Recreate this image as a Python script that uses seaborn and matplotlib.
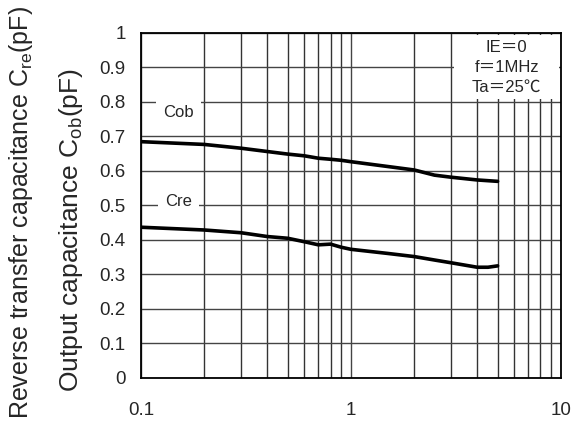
import numpy as np
import pandas as pd
import matplotlib
matplotlib.use('Agg')
import matplotlib.pyplot as plt
import matplotlib.ticker as mticker
from matplotlib.patches import Rectangle
import seaborn as sns

# collector-base voltage (V)
vcb_cob = [0.1, 0.2, 0.3, 0.5, 0.6, 0.7, 0.8, 0.9, 1.0, 2.0, 2.5, 3.0, 4.0, 5.0]
cob = [0.685, 0.677, 0.666, 0.649, 0.644, 0.637, 0.634, 0.631, 0.627, 0.603, 0.588, 0.582, 0.574, 0.570]

vcb_cre = [0.1, 0.2, 0.3, 0.4, 0.5, 0.6, 0.7, 0.8, 0.9, 1.0, 1.5, 2.0, 2.5, 3.0, 4.0, 4.5, 5.0]
cre = [0.437, 0.429, 0.421, 0.410, 0.405, 0.395, 0.386, 0.388, 0.379, 0.373, 0.361, 0.352, 0.342,
       0.334, 0.321, 0.321, 0.325]

x_ticks = [0.1, 1, 10]
y_ticks = [0, 0.1, 0.2, 0.3, 0.4, 0.5, 0.6, 0.7, 0.8, 0.9, 1]
conditions = ['IE＝0', 'f＝1MHz', 'Ta＝25℃']


def main():
    sns.set_style('white')
    plt.rcParams['font.family'] = ['Liberation Sans', 'DejaVu Sans']

    df = pd.concat([
        pd.DataFrame({'V': vcb_cob, 'C': cob, 'kind': 'Cob'}),
        pd.DataFrame({'V': vcb_cre, 'C': cre, 'kind': 'Cre'}),
    ])

    fig = plt.figure(figsize=(5.74, 4.23), dpi=100)
    ax = fig.add_axes([0.2456, 0.1064, 0.977 - 0.2456, 0.922 - 0.1064])

    sns.lineplot(data=df, x='V', y='C', units='kind', estimator=None,
                 color='black', lw=2.6, ax=ax, legend=False, zorder=4)

    ax.set_xscale('log')
    ax.set_xlim(0.1, 10)
    ax.set_ylim(0, 1)
    ax.set_xticks(x_ticks)
    ax.xaxis.set_major_formatter(mticker.FuncFormatter(lambda v, p: f'{v:g}'))
    ax.xaxis.set_minor_locator(mticker.LogLocator(base=10, subs=np.arange(2, 10)))
    ax.xaxis.set_minor_formatter(mticker.NullFormatter())
    ax.set_yticks(y_ticks)
    ax.yaxis.set_major_formatter(mticker.FuncFormatter(lambda v, p: f'{v:g}'))

    ax.grid(True, which='major', axis='both', color='#444444', lw=1.0)
    ax.grid(True, which='minor', axis='x', color='#333333', lw=1.0)
    ax.set_axisbelow(True)
    ax.tick_params(which='both', length=0, labelsize=13.5)
    ax.tick_params(axis='y', pad=11)
    ax.tick_params(axis='x', pad=17)
    for s in ax.spines.values():
        s.set_color('black')
        s.set_linewidth(1.3)

    ax.set_xlabel('')
    ax.set_ylabel('')

    # curve labels
    ax.text(0.151, 0.769, 'Cob', ha='center', va='center', fontsize=12, zorder=3,
            bbox=dict(facecolor='white', edgecolor='none', pad=5))
    ax.text(0.151, 0.511, 'Cre', ha='center', va='center', fontsize=12, zorder=3,
            bbox=dict(facecolor='white', edgecolor='none', pad=5))

    # measurement conditions box
    ax.add_patch(Rectangle((0.745, 0.81), 0.25, 0.185, transform=ax.transAxes,
                           facecolor='white', edgecolor='none', zorder=2.5))
    ax.text(0.871, 0.98, '\n'.join(conditions), transform=ax.transAxes,
            ha='center', va='top', fontsize=12, linespacing=1.4,
            family=['Liberation Sans', 'Noto Sans CJK JP', 'DejaVu Sans'], zorder=3)

    fig.text(0.124, 1 - 230 / 423, 'Output capacitance C$_{\\mathregular{ob}}$(pF)',
             rotation=90, ha='center', va='center', fontsize=19)
    fig.text(0.036, 1 - 6 / 423, 'Reverse transfer capacitance C$_{\\mathregular{re}}$(pF)',
             rotation=90, ha='center', va='top', fontsize=18)

    fig.savefig('out.png', dpi=100)
    plt.close(fig)


if __name__ == '__main__':
    main()
